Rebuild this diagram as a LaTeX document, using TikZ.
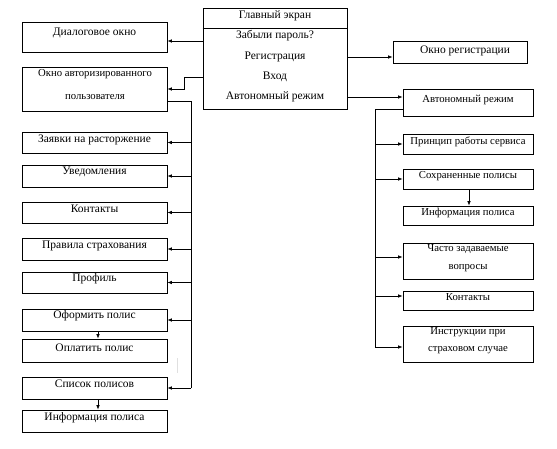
\documentclass[tikz,border=0pt]{standalone}
\usepackage{fontspec}
\setmainfont{Liberation Serif}
\usetikzlibrary{arrows.meta,fit}
\begin{document}
\begin{tikzpicture}[x=1pt,y=-1pt,
  box/.style={draw, line width=0.7pt, inner sep=0pt},
  txt/.style={font=\fontsize{11.5}{12}\selectfont, inner sep=0pt, align=center},
  txtr/.style={font=\fontsize{10.7}{12}\selectfont, inner sep=0pt, align=center},
  conn/.style={line width=0.7pt},
  arr/.style={conn, -{Latex[length=4.5pt,width=3.5pt]}}]
\useasboundingbox (0,0) rectangle (557,449);
% main screen
\node[box, fit={(203,8)(347,109)}] (main) {};
\draw[line width=1pt] (main.west |- 0,29) -- (main.east |- 0,29);
\node[txt] (tmain) at (275,16) {Главный экран};
\node[txt] (tforgot) at (275,36) {Забыли пароль?};
\node[txt] (treg) at (275,57) {Регистрация};
\node[txt] (tvhod) at (275,77) {Вход};
\node[txt] (tauto) at (275,97) {Автономный режим};
% left column
\node[box, fit={(22,22)(167,52)}] (dlg) {};
\node[txt] (tdlg) at (94.5,33) {Диалоговое окно};
\node[box, fit={(22,67)(167,111)}] (auth) {};
\node[txt, font=\fontsize{10.7}{23}\selectfont] (tauth) at (95,84.5) {Окно авторизированного\\пользователя};
\node[box, fit={(22,132)(167,153)}] (zayav) {};
\node[txt] (tzayav) at (94.5,140) {Заявки на расторжение};
\node[box, fit={(22,165)(167,187)}] (uved) {};
\node[txt] (tuved) at (94.5,172) {Уведомления};
\node[box, fit={(22,202)(167,223)}] (kont) {};
\node[txt] (tkont) at (94.5,209) {Контакты};
\node[box, fit={(22,238)(167,260)}] (prav) {};
\node[txt] (tprav) at (94.5,246) {Правила страхования};
\node[box, fit={(22,272)(167,293)}] (prof) {};
\node[txt] (tprof) at (94.5,279) {Профиль};
\node[box, fit={(22,309)(167,331)}] (oform) {};
\node[txt] (toform) at (94.5,316) {Оформить полис};
\node[box, fit={(22,339)(167,362)}] (oplat) {};
\node[txt] (toplat) at (94.5,348) {Оплатить полис};
\node[box, fit={(22,377)(167,399)}] (spis) {};
\node[txt] (tspis) at (94.5,384) {Список полисов};
\node[box, fit={(22,410)(167,432)}] (info) {};
\node[txt] (tinfo) at (94.5,418) {Информация полиса};
% right column
\node[box, fit={(393,41)(527,63)}] (reg) {};
\node[txt] (treg2) at (465,51) {Окно регистрации};
\node[box, fit={(403,89)(533,116)}] (auto) {};
\node[txtr] (tauto2) at (468,100) {Автономный режим};
\node[box, fit={(403,134)(533,154)}] (princ) {};
\node[txtr] (tprinc) at (468,142) {Принцип работы сервиса};
\node[box, fit={(403,169)(533,189)}] (saved) {};
\node[txtr] (tsaved) at (468,176) {Сохраненные полисы};
\node[box, fit={(403,206)(533,225)}] (info2) {};
\node[txtr] (tinfo2) at (468,213) {Информация полиса};
\node[box, fit={(403,243)(533,279)}] (faq) {};
\node[txtr, font=\fontsize{10.7}{18}\selectfont] (tfaq) at (468,258) {Часто задаваемые\\вопросы};
\node[box, fit={(403,291)(533,310)}] (kont2) {};
\node[txtr] (tkont2) at (468,297) {Контакты};
\node[box, fit={(403,326)(533,362)}] (instr) {};
\node[txtr, font=\fontsize{10.7}{17}\selectfont] (tinstr) at (468,340.5) {Инструкции при\\страховом случае};
% connectors from main
\draw[arr] (main.west |- 0,41) -- (dlg.east |- 0,41);
\draw[arr] (main.west |- 0,77) -- (184,77) -- (184,89) -- (auth.east |- 0,89);
\draw[arr] (main.east |- 0,57) -- (reg.west |- 0,57);
\draw[arr] (main.east |- 0,97) -- (auto.west |- 0,97);
% left bus
\coordinate (lbus) at (191,0);
\draw[conn] (auth.east |- 0,101) -- (lbus |- 0,101) -- (lbus |- spis.east);
\foreach \n in {zayav,uved,kont,prav,prof,oform,spis}
  \draw[arr] (lbus |- \n.east) -- (\n.east);
\draw[arr] (oform.south -| 98,0) -- (oplat.north -| 98,0);
\draw[arr] (spis.south -| 98,0) -- (info.north -| 98,0);
\draw[black!12, line width=0.6pt] (177,358) -- (177,373);
% right bus
\coordinate (rbus) at (375,0);
\draw[conn] (auto.west |- 0,109) -- (rbus |- 0,109) -- (rbus |- 0,347);
\draw[arr] (rbus |- 0,144) -- (princ.west |- 0,144);
\draw[arr] (rbus |- 0,179) -- (saved.west |- 0,179);
\draw[arr] (rbus |- 0,257) -- (faq.west |- 0,257);
\draw[arr] (rbus |- 0,296) -- (kont2.west |- 0,296);
\draw[arr] (rbus |- 0,347) -- (instr.west |- 0,347);
\draw[arr] (saved.south -| 469,0) -- (info2.north -| 469,0);
\end{tikzpicture}
\end{document}
